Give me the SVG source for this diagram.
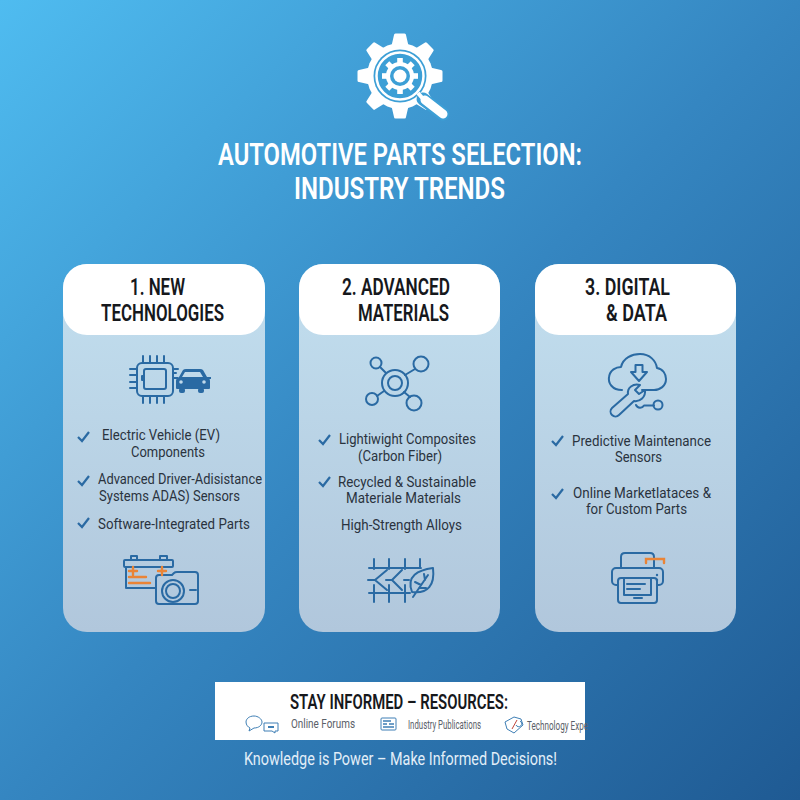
<svg xmlns="http://www.w3.org/2000/svg" xmlns:xlink="http://www.w3.org/1999/xlink" width="800" height="800" viewBox="0 0 800 800">
<defs>
<linearGradient id="bg" x1="0" y1="0" x2="1" y2="1"><stop offset="0" stop-color="#4fbcf0"/><stop offset="0.5" stop-color="#3586c1"/><stop offset="1" stop-color="#1f5a93"/></linearGradient>
<linearGradient id="card" x1="0" y1="0" x2="0" y2="1"><stop offset="0" stop-color="#c2dfef"/><stop offset="1" stop-color="#b1c7dc"/></linearGradient>
<path id="chk" d="M0,5 L4,9 L11,0" fill="none" stroke="#2a6aa3" stroke-width="2.200"/>
<path id="tooth" d="M-9,-28L-6,-41Q-6,-42.500 -4.500,-42.500H4.500Q6,-42.500 6,-41L9,-28z" fill="#fff"/>
<rect id="t2" x="-2.800" y="-18" width="5.600" height="6" fill="#fff"/>
</defs>
<style>
text{font-family:Roboto,"Liberation Sans",sans-serif}
.ttl{font-size:32px;font-weight:600;fill:#fff}
.hd{font-size:23px;font-weight:600;fill:#16181c}
.bd{font-size:14px;font-weight:400;fill:#2a333e}
.ft{font-size:13px;fill:#5a6068}
.ic{fill:none;stroke:#2a6aa3;stroke-width:2;stroke-linecap:round;stroke-linejoin:round}
.or{fill:none;stroke:#ea8436;stroke-width:2.400;stroke-linecap:round}
</style>
<rect width="800" height="800" fill="url(#bg)"/>
<g id="logo">
<use xlink:href="#tooth" transform="translate(400 76)"/>
<use xlink:href="#tooth" transform="translate(400 76) rotate(45)"/>
<use xlink:href="#tooth" transform="translate(400 76) rotate(90)"/>
<use xlink:href="#tooth" transform="translate(400 76) rotate(135)"/>
<use xlink:href="#tooth" transform="translate(400 76) rotate(180)"/>
<use xlink:href="#tooth" transform="translate(400 76) rotate(225)"/>
<use xlink:href="#tooth" transform="translate(400 76) rotate(270)"/>
<use xlink:href="#tooth" transform="translate(400 76) rotate(315)"/>
<circle cx="400" cy="76" r="33" fill="#fff"/>
<circle cx="400" cy="76" r="26.500" fill="#3c9fd6"/>
<circle cx="400" cy="76" r="23.500" fill="none" stroke="#fff" stroke-width="2.500"/>
<circle cx="400" cy="76" r="14" fill="#fff"/>
<use xlink:href="#t2" transform="translate(400 76)"/>
<use xlink:href="#t2" transform="translate(400 76) rotate(45)"/>
<use xlink:href="#t2" transform="translate(400 76) rotate(90)"/>
<use xlink:href="#t2" transform="translate(400 76) rotate(135)"/>
<use xlink:href="#t2" transform="translate(400 76) rotate(180)"/>
<use xlink:href="#t2" transform="translate(400 76) rotate(225)"/>
<use xlink:href="#t2" transform="translate(400 76) rotate(270)"/>
<use xlink:href="#t2" transform="translate(400 76) rotate(315)"/>
<circle cx="400" cy="76" r="10" fill="#3c9fd6"/>
<circle cx="400" cy="76" r="6.500" fill="#fff"/>
<path d="M423,99 L443,114" stroke="#3c9fd6" stroke-width="13" stroke-linecap="round"/>
<path d="M418,93 L424,100" stroke="#fff" stroke-width="4"/>
<path d="M425,100 L443,114" stroke="#fff" stroke-width="9" stroke-linecap="round"/>
</g>
<g id="title">
<text class="ttl" x="218" y="164.500" textLength="364" lengthAdjust="spacingAndGlyphs">AUTOMOTIVE PARTS SELECTION:</text>
<text class="ttl" x="294" y="198.500" textLength="211" lengthAdjust="spacingAndGlyphs">INDUSTRY TRENDS</text>
</g>
<g id="card1">
<rect x="63" y="264" width="202" height="368" rx="24" fill="url(#card)"/>
<rect x="63" y="264" width="202" height="71" rx="24" fill="#fff"/>
<text class="hd" x="130" y="295" textLength="55" lengthAdjust="spacingAndGlyphs">1. NEW</text>
<text class="hd" x="101" y="321" textLength="123" lengthAdjust="spacingAndGlyphs">TECHNOLOGIES</text>
<g class="ic">
<rect x="137" y="363" width="36" height="33" rx="5"/>
<rect x="144" y="369" width="22" height="20" rx="2"/>
<path d="M143,356v7M150,356v7M157,356v7M164,356v7M143,396v7M150,396v7M157,396v7M164,396v7M130,369h7M130,375h7M130,382h7M130,388h7M173,369h5M173,373h3"/>
<path d="M144,376h-2v4h2"/>
</g>
<g id="car" fill="#2a6aa3">
<path d="M176,381q0,-3 3,-4l4,-7q1,-1 3,-1h14q2,0 3,1l4,7q3,1 3,4v7q0,1 -1,1H177q-1,0 -1,-1z"/>
<rect x="174" y="377" width="4" height="2"/><rect x="207" y="377" width="4" height="2"/>
<rect x="179" y="388" width="6" height="5" rx="2"/><rect x="198" y="388" width="6" height="5" rx="2"/>
<path d="M185,372h15l3,5h-21z" fill="#c0d9ea"/>
<circle cx="181" cy="382" r="1.800" fill="#c0d9ea"/><circle cx="204" cy="382" r="1.800" fill="#c0d9ea"/>
</g>
<g class="ic">
<rect x="124" y="560" width="49" height="7" rx="1"/>
<path d="M126,567v21h30M131,560v-4h6v4M160,560v-4h7v4"/>
<path d="M156,586v-8q0,-3 3,-3h13l2,-2q1,-1 3,-1h18q3,0 3,3v26q0,3 -3,3H159q-3,0 -3,-3z"/>
<circle cx="173" cy="591" r="11"/><circle cx="173" cy="591" r="7"/>
<path d="M190,590h6"/>
</g>
<path class="or" d="M129,571h8M133,567v8M158,571h8M162,567v8M129,577h17M129,583h21"/>
<use xlink:href="#chk" x="78" y="432"/>
<use xlink:href="#chk" x="78" y="476"/>
<use xlink:href="#chk" x="78" y="518"/>
<text class="bd" x="102" y="440" textLength="118" lengthAdjust="spacingAndGlyphs">Electric Vehicle (EV)</text>
<text class="bd" x="131" y="457" textLength="74" lengthAdjust="spacingAndGlyphs">Components</text>
<text class="bd" x="98" y="484" textLength="164" lengthAdjust="spacingAndGlyphs">Advanced Driver-Adisistance</text>
<text class="bd" x="99" y="501" textLength="141" lengthAdjust="spacingAndGlyphs">Systems ADAS) Sensors</text>
<text class="bd" x="98" y="529" textLength="152" lengthAdjust="spacingAndGlyphs">Software-Integrated Parts</text>
</g>
<g id="card2">
<rect x="299" y="264" width="201" height="368" rx="24" fill="url(#card)"/>
<rect x="299" y="264" width="201" height="71" rx="24" fill="#fff"/>
<text class="hd" x="342" y="295" textLength="108" lengthAdjust="spacingAndGlyphs">2. ADVANCED</text>
<text class="hd" x="358" y="321" textLength="91" lengthAdjust="spacingAndGlyphs">MATERIALS</text>
<g class="ic">
<circle cx="395" cy="383" r="13"/><circle cx="395" cy="383" r="7"/>
<circle cx="376" cy="363" r="5.500"/><circle cx="421" cy="364" r="7.500"/><circle cx="372" cy="399" r="6"/><circle cx="414" cy="403" r="7.500"/>
<path d="M380,367l6,6M415,369l-10,6M377,396l7,-5M410,397l-6,-5"/>
<path d="M369,568H421M374,559v10M389,559v10M405,559v10M420,559v9M369,593H410M374,585v17M389,585v17M405,585v17M387,570l-12,10l12,10M368,580h7M402,570l-10,10l10,10M386,580h6M404,580h5"/>
<path d="M412,592C406,576 418,570 433,568C435,585 428,594 412,592zM413,597L428,575M421,585l-6,-3M425,580l-1,-6M419,588l7,0"/>
</g>
<use xlink:href="#chk" x="319" y="435"/>
<use xlink:href="#chk" x="319" y="477"/>
<text class="bd" x="339" y="444" textLength="137" lengthAdjust="spacingAndGlyphs">Lightiwight Composites</text>
<text class="bd" x="358" y="461" textLength="84" lengthAdjust="spacingAndGlyphs">(Carbon Fiber)</text>
<text class="bd" x="338" y="487" textLength="138" lengthAdjust="spacingAndGlyphs">Recycled &amp; Sustainable</text>
<text class="bd" x="346" y="503" textLength="115" lengthAdjust="spacingAndGlyphs">Materiale Materials</text>
<text class="bd" x="341" y="530" textLength="121" lengthAdjust="spacingAndGlyphs">High-Strength Alloys</text>
</g>
<g id="card3">
<rect x="535" y="264" width="201" height="368" rx="24" fill="url(#card)"/>
<rect x="535" y="264" width="201" height="71" rx="24" fill="#fff"/>
<text class="hd" x="585" y="295" textLength="85" lengthAdjust="spacingAndGlyphs">3. DIGITAL</text>
<text class="hd" x="606" y="321" textLength="61" lengthAdjust="spacingAndGlyphs">&amp; DATA</text>
<g class="ic">
<path d="M622,390C612,390 608,383 609,377C610,370 616,367 621,367C623,358 632,354 640,354C650,354 656,361 657,368C663,369 666,374 666,379C666,386 660,390 654,390H642"/>
<path d="M635.500,365h7v7h4.500l-8,9l-8,-9h4.500z"/>
<path d="M640,385C633,383 627,388 628,394L612,408A4.700,4.700 0 0 0 619,415L634,401C640,402 646,397 645,390L639,394L635,390Z" fill="#bcd5e7"/>
<path d="M636,405a4.500,4.500 0 0 0 8,0.500h10"/>
<circle cx="658" cy="405" r="4.500"/>
<path d="M621,568V557q0,-4 4,-4H650q4,0 4,4V568"/>
<rect x="612" y="568" width="51" height="17" rx="4"/>
<rect x="618" y="578" width="39" height="25" rx="3" fill="#b5cbdf"/>
<path d="M624,578V595H651V578M627,584H645M627,589H640M634,598h8"/>
</g>
<circle cx="657" cy="575" r="1.200" fill="#2a6aa3"/><circle cx="657" cy="580" r="1.200" fill="#2a6aa3"/>
<path class="or" d="M646,563v-4h18v4"/>
<use xlink:href="#chk" x="552" y="436"/>
<use xlink:href="#chk" x="552" y="489"/>
<text class="bd" x="572" y="446" textLength="139" lengthAdjust="spacingAndGlyphs">Predictive Maintenance</text>
<text class="bd" x="615" y="462" textLength="47" lengthAdjust="spacingAndGlyphs">Sensors</text>
<text class="bd" x="573" y="498" textLength="138" lengthAdjust="spacingAndGlyphs">Online Marketlataces &amp;</text>
<text class="bd" x="586" y="514" textLength="101" lengthAdjust="spacingAndGlyphs">for Custom Parts</text>
</g>
<g id="resources">
<rect x="215" y="682" width="370" height="58" fill="#fff"/>
<text x="290" y="709" font-size="20" font-weight="600" fill="#16181c" textLength="218" lengthAdjust="spacingAndGlyphs">STAY INFORMED – RESOURCES:</text>
<g fill="none" stroke="#3f7fb5" stroke-width="1">
<path d="M250,728l-1,3l5,-3c5,0 8,-3 8,-6c0,-3 -4,-6 -8,-6c-5,0 -8,3 -8,6c0,3 2,5 4,6z"/>
<path d="M264,723h14v8h-3l0,2l-3,-2h-8z"/>
<path d="M268,727h6" stroke-width="2"/>
<rect x="381" y="718" width="15" height="12" rx="1"/>
<path d="M383,721h8M383,724h4M389,724h5M383,727h11" stroke-width="1.300"/>
<path d="M505,722l9,-5l7,2l2,6l-9,8l-7,-4z"/>
<path d="M512,729l5,-9" stroke="#c0453a"/>
<path d="M516,725a3,3 0 1 0 4,-4"/>
</g>
<text class="ft" x="291" y="728" textLength="64" lengthAdjust="spacingAndGlyphs">Online Forums</text>
<text class="ft" x="408" y="729" textLength="73" lengthAdjust="spacingAndGlyphs">Industry Publications</text>
<text class="ft" x="527" y="730" textLength="61" lengthAdjust="spacingAndGlyphs">Technology Expe</text>
</g>
<text id="tagline" x="244" y="765" font-size="18" fill="#e2eef8" textLength="313" lengthAdjust="spacingAndGlyphs">Knowledge is Power – Make Informed Decisions!</text>
</svg>
